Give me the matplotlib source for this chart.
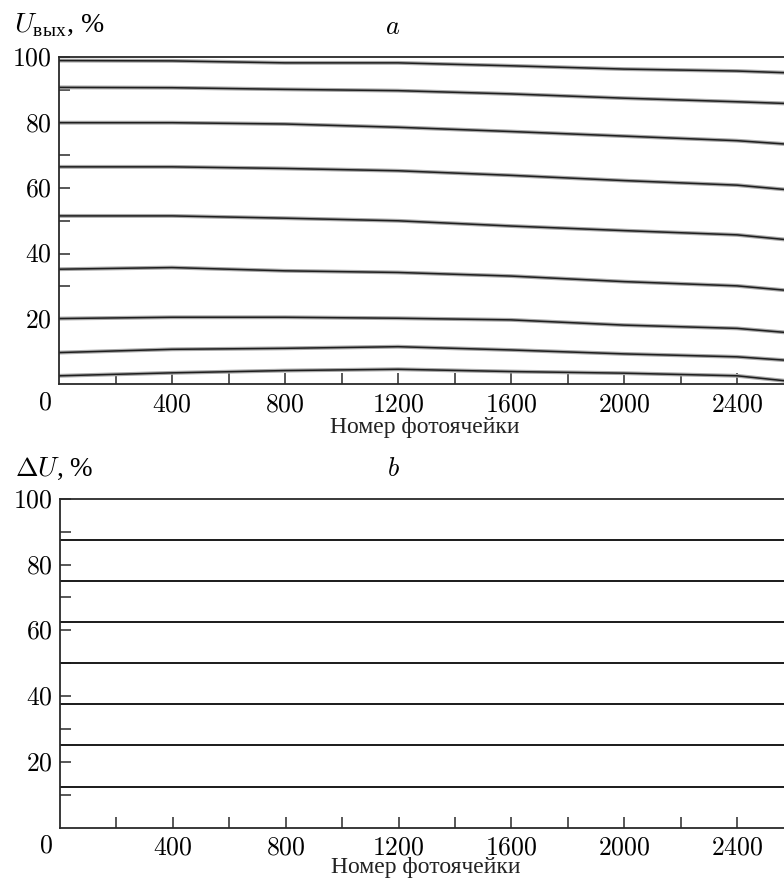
import numpy as np
from matplotlib import pyplot as plt

plt.rcParams['font.family'] = ['Liberation Serif', 'DejaVu Serif']
plt.rcParams['mathtext.fontset'] = 'cm'

# номера фотоячеек, в которых сняты значения
cells = [0, 400, 800, 1200, 1600, 2000, 2400, 2566]

# U_вых, % для девяти уровней (панель a)
u_out = [
    [99.0, 98.9, 98.3, 98.3, 97.4, 96.4, 95.8, 95.3],
    [90.8, 90.7, 90.2, 89.8, 88.8, 87.5, 86.4, 85.9],
    [80.0, 80.0, 79.6, 78.6, 77.3, 75.9, 74.5, 73.5],
    [66.5, 66.5, 66.0, 65.3, 63.9, 62.3, 60.9, 59.6],
    [51.5, 51.5, 50.8, 50.0, 48.4, 47.0, 45.7, 44.3],
    [35.2, 35.7, 34.7, 34.2, 33.1, 31.4, 30.1, 28.8],
    [20.1, 20.5, 20.5, 20.2, 19.7, 18.1, 17.1, 15.9],
    [9.7, 10.7, 11.0, 11.5, 10.5, 9.3, 8.4, 7.4],
    [2.6, 3.5, 4.2, 4.6, 3.9, 3.4, 2.6, 1.1],
]

# ΔU, % (панель b)
delta_u = [87.5, 75.0, 62.5, 50.0, 37.5, 25.0, 12.5]

x_major = [400, 800, 1200, 1600, 2000, 2400]
x_minor = [200, 600, 1000, 1400, 1800, 2200]
y_major = [20, 40, 60, 80, 100]
y_minor = [10, 30, 50, 70, 90]

W, H = 784, 882
fig = plt.figure(figsize=(W / 100, H / 100), dpi=100)

ax_a = fig.add_axes([59 / W, 1 - 384.3 / H, 1 - 59 / W, 327 / H])
ax_b = fig.add_axes([60 / W, 1 - 827.7 / H, 1 - 60 / W, 329 / H])

for ax, xl_y in ((ax_a, -0.133), (ax_b, -0.122)):
    ax.set_xlim(0, 2566)
    ax.set_ylim(0, 100)
    ax.spines['right'].set_visible(False)
    for s in ('left', 'bottom', 'top'):
        ax.spines[s].set_linewidth(1.3)
        ax.spines[s].set_color('#2a2a2a')
    ax.set_xticks(x_major)
    ax.set_xticks(x_minor, minor=True)
    ax.set_yticks(y_major)
    ax.set_yticks(y_minor, minor=True)
    ax.set_xticklabels(['$%d$' % v for v in x_major])
    ax.set_yticklabels(['$%d$' % v for v in y_major])
    ax.tick_params(which='both', direction='in', length=8, width=1.1,
                   color='#2a2a2a', labelsize=18.5, top=False, right=False)
    ax.tick_params(axis='x', pad=7)
    ax.tick_params(axis='y', pad=5)
    ax.text(-14 / 725, -0.058, '$0$', transform=ax.transAxes, fontsize=18.5,
            ha='center', va='center')
    ax.text(0.505, xl_y, 'Номер фотоячейки', transform=ax.transAxes,
            fontsize=17, ha='center', va='center', color='#222222')

for ys in u_out:
    ax_a.plot(cells, ys, color='#a8a8a8', lw=2.8, clip_on=True)
    ax_a.plot(cells, ys, color='#1e1e1e', lw=1.1, clip_on=True)

for v in delta_u:
    ax_b.axhline(v, color='#1a1a1a', lw=1.4)

fig.text(14 / W, 1 - 25 / H, r'$U_{\mathregular{вых}}$, %', fontsize=20,
         ha='left', va='center')
fig.text(393 / W, 1 - 28 / H, '$a$', fontsize=19, ha='center', va='center')
fig.text(15 / W, 1 - 469 / H, r'$\Delta U$, %', fontsize=19.5,
         ha='left', va='center')
fig.text(393 / W, 1 - 469 / H, '$b$', fontsize=19, ha='center', va='center')

fig.savefig('out.png', dpi=100)
